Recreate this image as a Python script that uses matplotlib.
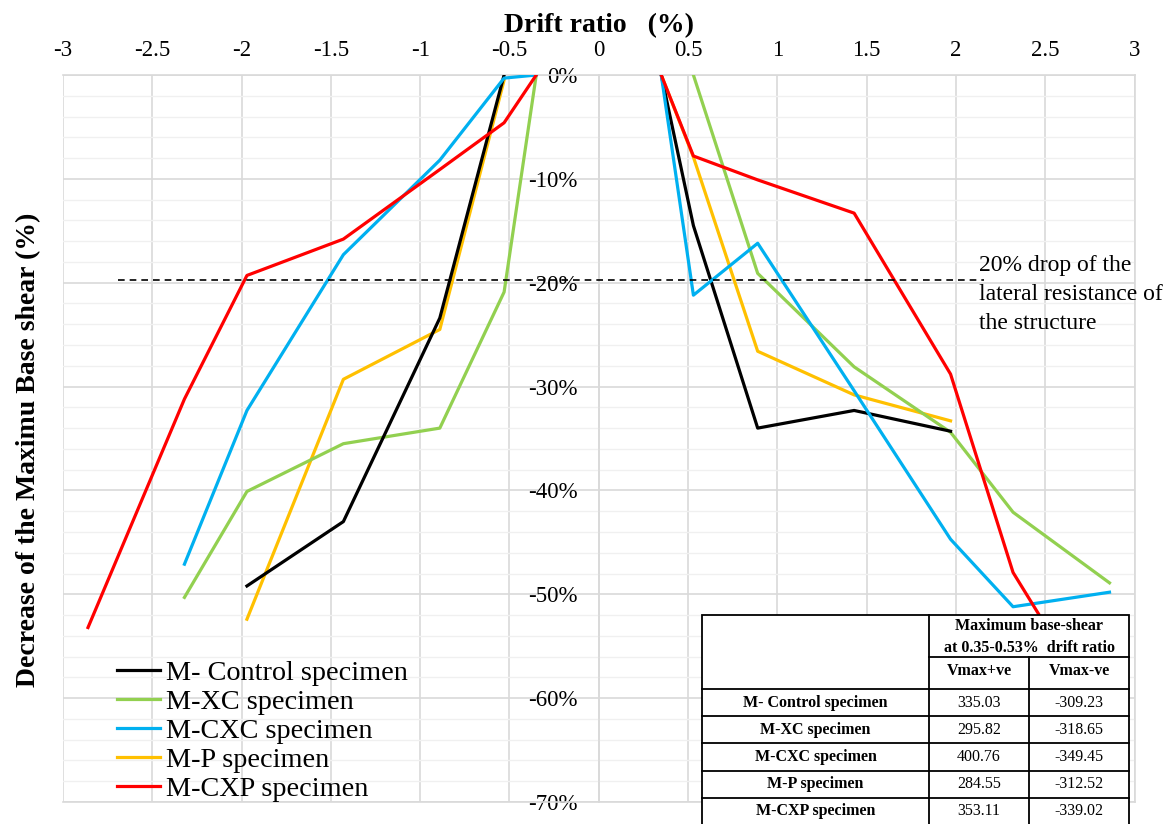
import numpy as np
import matplotlib
matplotlib.use("Agg")
import matplotlib.pyplot as plt
from matplotlib.ticker import MultipleLocator, FuncFormatter
from matplotlib.patches import Rectangle

plt.rcParams['font.family'] = ['Liberation Serif', 'DejaVu Serif']

# drift ratio levels (%) - used with a minus sign for the negative direction
drift = [0.35, 0.53, 0.89, 1.43, 1.97, 2.32, 2.86]
nan = np.nan

names = ['M- Control specimen', 'M-XC specimen', 'M-CXC specimen', 'M-P specimen', 'M-CXP specimen']
colors = ['#000000', '#92d050', '#00b0f0', '#ffc000', '#ff0000']

# decrease of max base shear (%) in negative direction
neg_ctrl = [nan, 0.0, -23.4, -43.0, -49.2, nan, nan]
neg_xc = [0.0, -20.9, -34.0, -35.5, -40.1, -50.3, nan]
neg_cxc = [0.0, -0.3, -8.2, -17.3, -32.3, -47.1, nan]
neg_p = [nan, -0.5, -24.5, -29.3, -52.4, nan, nan]
neg_cxp = [0.0, -4.6, -9.1, -15.8, -19.3, -31.2, -53.2]

# positive direction
pos_ctrl = [0.0, -14.5, -34.0, -32.3, -34.3, nan, nan]
pos_xc = [nan, 0.0, -19.1, -28.1, -34.4, -42.1, -48.9]
pos_cxc = [0.0, -21.2, -16.2, -30.4, -44.7, -51.2, -49.8]
pos_p = [0.0, -7.9, -26.6, -30.8, -33.3, nan, nan]
pos_cxp = [0.0, -7.8, -10.1, -13.3, -28.8, -47.9, -63.0]

neg_all = [neg_ctrl, neg_xc, neg_cxc, neg_p, neg_cxp]
pos_all = [pos_ctrl, pos_xc, pos_cxc, pos_p, pos_cxp]
zorders = [4, 3, 5, 2, 6]

drop_level = -19.7

# table data
tab_rows = ['M- Control specimen', 'M-XC specimen', 'M-CXC specimen', 'M-P specimen', 'M-CXP specimen']
vmax_pos = ['335.03', '295.82', '400.76', '284.55', '353.11']
vmax_neg = ['-309.23', '-318.65', '-349.45', '-312.52', '-339.02']

fig = plt.figure(figsize=(11.66, 8.24), dpi=100)
ax = fig.add_axes([63/1166, 1-802/824, (1134.5-63)/1166, (802-75)/824])

x = np.array(drift)
for i in range(5):
    ax.plot(-x, neg_all[i], color=colors[i], lw=2.3, zorder=zorders[i], label=names[i])
    ax.plot(x, pos_all[i], color=colors[i], lw=2.3, zorder=zorders[i])

ax.axhline(drop_level, xmin=(-2.69+3)/6, xmax=(2.16+3)/6, color='black', lw=1.2, ls=(0, (4, 3)), zorder=7)

ax.set_xlim(-3, 3)
ax.set_ylim(-70, 0)
ax.xaxis.set_major_locator(MultipleLocator(0.5))
ax.yaxis.set_major_locator(MultipleLocator(10))
ax.yaxis.set_minor_locator(MultipleLocator(2))
ax.xaxis.set_major_formatter(FuncFormatter(lambda v, p: '%g' % v))
ax.yaxis.set_major_formatter(FuncFormatter(lambda v, p: '%d%%' % round(v)))
ax.xaxis.tick_top()
ax.tick_params(axis='x', length=0, pad=10, labelsize=16.5)
ax.tick_params(axis='y', which='both', length=0, pad=15, labelsize=16.5)

ax.grid(True, which='major', color='#d9d9d9', lw=1.2)
ax.grid(True, which='minor', axis='y', color='#f0f0f0', lw=1.0)
ax.set_axisbelow(True)
for s in ['top', 'right', 'bottom', 'left']:
    ax.spines[s].set_color('#d9d9d9')
    ax.spines[s].set_linewidth(1.2)
ax.spines['left'].set_position(('data', 0))

ax.xaxis.set_label_position('top')
ax.set_xlabel('Drift ratio   (%)', fontsize=20, fontweight='bold', labelpad=6)
ax.set_ylabel('Decrease of the Maximu Base shear (%)', fontsize=20, fontweight='bold')
ax.yaxis.set_label_coords(-0.0205, 0.484)

ax.text(0.855, 0.752, '20% drop of the\nlateral resistance of\nthe structure',
        transform=ax.transAxes, fontsize=17, va='top', ha='left', linespacing=1.5)

ax.legend(loc='lower left', bbox_to_anchor=(0.05, -0.0005), frameon=False, fontsize=20.3,
          handlelength=1.55, handletextpad=0.2, labelspacing=0.12, borderpad=0, borderaxespad=0)

# table overlay in pixel coords
tx = fig.add_axes([0, 0, 1, 1], zorder=10)
tx.set_xlim(0, 1166)
tx.set_ylim(824, 0)
tx.axis('off')
L, C1, C2, R = 702, 929, 1029, 1129
T, H1, H2 = 615, 657, 689
row_lines = [716, 743, 771, 798]
tx.add_patch(Rectangle((L, T), R-L, 830-T, facecolor='white', edgecolor='black', lw=1.3))
lk = dict(color='black', lw=1.3)
tx.plot([C1, C1], [T, 830], **lk)
tx.plot([C2, C2], [H1, 830], **lk)
tx.plot([C1, R], [H1, H1], **lk)
tx.plot([L, R], [H2, H2], **lk)
for yy in row_lines:
    tx.plot([L, R], [yy, yy], **lk)
fs = 11.5
tx.text((C1+R)/2, 626, 'Maximum base-shear', ha='center', va='center', fontsize=fs, fontweight='bold')
tx.text((C1+R)/2, 648, 'at 0.35-0.53%  drift ratio', ha='center', va='center', fontsize=fs, fontweight='bold')
tx.text((C1+C2)/2, 671, 'Vmax+ve', ha='center', va='center', fontsize=fs, fontweight='bold')
tx.text((C2+R)/2, 671, 'Vmax-ve', ha='center', va='center', fontsize=fs, fontweight='bold')
row_y = [703, 729.5, 757, 784.5, 811]
for i in range(5):
    tx.text((L+C1)/2, row_y[i], tab_rows[i], ha='center', va='center', fontsize=fs, fontweight='bold')
    tx.text((C1+C2)/2, row_y[i], vmax_pos[i], ha='center', va='center', fontsize=fs)
    tx.text((C2+R)/2, row_y[i], vmax_neg[i], ha='center', va='center', fontsize=fs)

fig.savefig('out.png', dpi=100)
